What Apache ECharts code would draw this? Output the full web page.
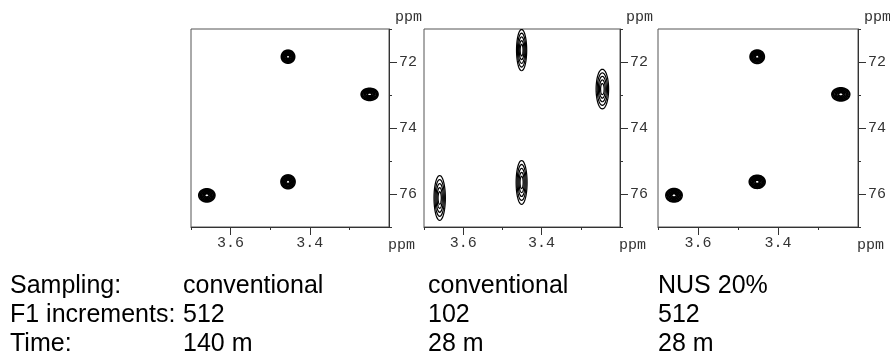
<!DOCTYPE html>
<html>
<head>
<meta charset="utf-8">
<script src="https://cdn.jsdelivr.net/npm/echarts@6/dist/echarts.min.js"></script>
<style>
  html, body { margin: 0; padding: 0; background: #fff; }
  #chart { width: 890px; height: 358px; }
</style>
</head>
<body>
<div id="chart"></div>
<script>
// axis ranges / ticks (ppm)
const f2Range = [3.2, 3.7]
const f1Range = [71, 77]
const f2Labels = [3.6, 3.4]
const f2Major = [3.6, 3.4]
const f2Minor = [3.7, 3.5, 3.3]
const f1Labels = [72, 74, 76]
const f1Minor = [71, 73, 75, 77]

// peaks: [F2 ppm, F1 ppm, F2 width, F1 width]
const peaksConv512 = [
  [3.455, 71.84, 0.033, 0.39],
  [3.249, 72.98, 0.042, 0.36],
  [3.455, 75.63, 0.035, 0.41],
  [3.660, 76.04, 0.040, 0.39]
]
const peaksConv102 = [
  [3.451, 71.64, 0.026, 1.25],
  [3.245, 72.82, 0.032, 1.20],
  [3.451, 75.65, 0.028, 1.33],
  [3.660, 76.12, 0.029, 1.36]
]
const peaksNus512 = [
  [3.452, 71.84, 0.035, 0.40],
  [3.243, 72.98, 0.044, 0.39],
  [3.452, 75.63, 0.039, 0.39],
  [3.660, 76.04, 0.040, 0.40]
]
const contourLevels = [1, 0.82, 0.64, 0.46, 0.28]

// table below the spectra
const rowLabels = ['Sampling:', 'F1 increments:', 'Time:']
const sampling = ['conventional', 'conventional', 'NUS 20%']
const increments = ['512', '102', '512']
const times = ['140 m', '28 m', '28 m']

const panels = [
  { left: 191, width: 198, peaks: peaksConv512, lw: 1.9 },
  { left: 424, width: 196, peaks: peaksConv102, lw: 1.2 },
  { left: 658, width: 200, peaks: peaksNus512, lw: 1.9 }
]
const gridTop = 29
const gridH = 198
const colX = [183, 428, 658]
const rowY = [286, 315, 344]

const tickFont = { fontFamily: 'Liberation Mono', fontSize: 15, color: '#333' }

function ellipsePoints (c, rx, ry) {
  const pts = []
  for (let k = 0; k < 48; k++) {
    const t = (k / 48) * Math.PI * 2
    pts.push([c[0] + rx * Math.cos(t), c[1] + ry * Math.sin(t)])
  }
  return pts
}

function peakRenderer (lw) {
  return function (params, api) {
    const c = api.coord([api.value(0), api.value(1)])
    const s = api.size([api.value(2), api.value(3)])
    const rx = Math.abs(s[0]) / 2
    const ry = Math.abs(s[1]) / 2
    return {
      type: 'group',
      children: contourLevels.map(l => ({
        type: 'polygon',
        shape: { points: ellipsePoints(c, rx * l, ry * l) },
        style: { fill: 'none', stroke: '#000', lineWidth: lw }
      }))
    }
  }
}

const grid = []
const xAxis = []
const yAxis = []
const series = []
const graphic = []

panels.forEach((p, i) => {
  grid.push({
    left: p.left, top: gridTop, width: p.width, height: gridH,
    show: true, borderColor: '#555', borderWidth: 1, backgroundColor: '#fff'
  })
  // main F2 axis (labels + long ticks)
  xAxis.push({
    type: 'value', gridIndex: i, position: 'bottom', inverse: true,
    min: f2Range[0], max: f2Range[1],
    axisLine: { onZero: false, lineStyle: { color: '#333', width: 1 } },
    axisTick: { customValues: f2Major, length: 8, lineStyle: { color: '#333' } },
    axisLabel: { customValues: f2Labels, margin: 9, formatter: v => v.toFixed(1), ...tickFont },
    splitLine: { show: false }
  })
  // short ticks
  xAxis.push({
    type: 'value', gridIndex: i, position: 'bottom', inverse: true,
    min: f2Range[0], max: f2Range[1],
    axisLine: { show: false, onZero: false },
    axisTick: { customValues: f2Minor, length: 3, lineStyle: { color: '#333' } },
    axisLabel: { show: false },
    splitLine: { show: false }
  })
  yAxis.push({
    type: 'value', gridIndex: i, position: 'right', inverse: true,
    min: f1Range[0], max: f1Range[1],
    axisLine: { onZero: false, lineStyle: { color: '#333', width: 1 } },
    axisTick: { customValues: f1Labels, length: 8, lineStyle: { color: '#333' } },
    axisLabel: { customValues: f1Labels, margin: 10, ...tickFont },
    splitLine: { show: false }
  })
  yAxis.push({
    type: 'value', gridIndex: i, position: 'right', inverse: true,
    min: f1Range[0], max: f1Range[1],
    axisLine: { show: false, onZero: false },
    axisTick: { customValues: f1Minor, length: 3, lineStyle: { color: '#333' } },
    axisLabel: { show: false },
    splitLine: { show: false }
  })
  series.push({
    type: 'custom',
    xAxisIndex: i * 2,
    yAxisIndex: i * 2,
    clip: true,
    silent: true,
    data: p.peaks,
    renderItem: peakRenderer(p.lw)
  })
  const right = p.left + p.width
  graphic.push({
    type: 'text', left: right + 6, top: 10,
    style: { text: 'ppm', font: '15px "Liberation Mono"', fill: '#333' }
  })
  graphic.push({
    type: 'text', left: right - 1, top: 238,
    style: { text: 'ppm', font: '15px "Liberation Mono"', fill: '#333' }
  })
})

const tableFont = '25px "Liberation Sans"'
rowLabels.forEach((t, r) => {
  graphic.push({
    type: 'text', x: 10, y: rowY[r],
    style: { text: t, font: tableFont, fill: '#000', verticalAlign: 'middle' }
  })
})
;[sampling, increments, times].forEach((row, r) => {
  row.forEach((t, c) => {
    graphic.push({
      type: 'text', x: colX[c], y: rowY[r],
      style: { text: t, font: tableFont, fill: '#000', verticalAlign: 'middle' }
    })
  })
})

const chart = echarts.init(document.getElementById('chart'), null, { renderer: 'canvas' })
chart.setOption({
  animation: false,
  backgroundColor: '#fff',
  grid,
  xAxis,
  yAxis,
  series,
  graphic
})
</script>
</body>
</html>
